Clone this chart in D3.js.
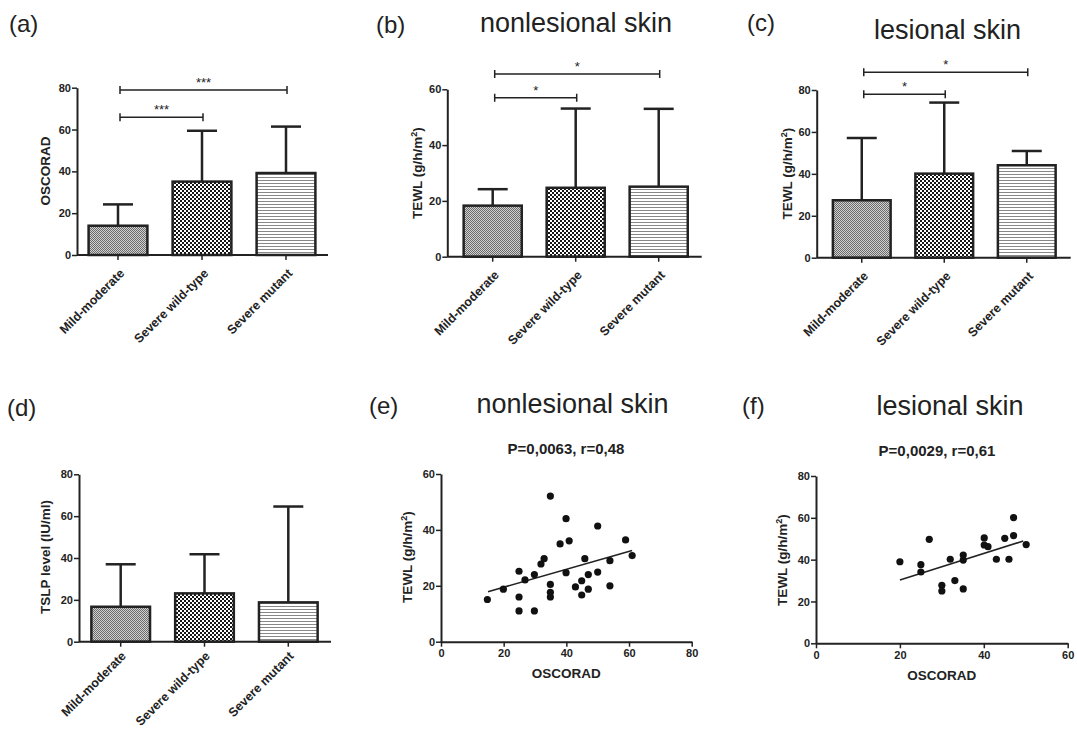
<!DOCTYPE html>
<html>
<head>
<meta charset="utf-8">
<script src="https://cdn.jsdelivr.net/npm/d3@7"></script>
<style>
body { margin: 0; background: #fff; }
svg text { font-family: "Liberation Sans", Arial, sans-serif; fill: #222; }
</style>
</head>
<body>
<svg id="fig" width="1077" height="731"></svg>
<script>
// values
var categories = ["Mild-moderate", "Severe wild-type", "Severe mutant"];

var oscoradMean = [14.0, 35.1, 39.2];
var oscoradSD   = [10.2, 24.3, 22.2];
var tewlNonMean = [18.3, 24.7, 25.1];
var tewlNonSD   = [5.9, 28.4, 27.9];
var tewlLesMean = [27.4, 40.1, 44.1];
var tewlLesSD   = [29.7, 33.9, 6.8];
var tslpMean    = [16.7, 23.1, 18.8];
var tslpSD      = [20.3, 18.7, 45.8];

// significance brackets: [from, to, height, label]
var sigA = [[0, 1, 65.9, "***"], [0, 2, 78.9, "***"]];
var sigB = [[0, 1, 57.0, "*"], [0, 2, 65.5, "*"]];
var sigC = [[0, 1, 78.0, "*"], [0, 2, 88.5, "*"]];

// scatter (e) nonlesional skin
var eX = [14.8, 19.9, 24.9, 24.9, 24.9, 26.8, 29.8, 29.8, 31.9, 32.9, 34.9, 34.9, 34.9, 34.9, 38.0,
          39.9, 39.9, 40.9, 42.9, 44.9, 44.9, 45.9, 47.0, 47.0, 50.0, 50.0, 53.9, 53.9, 58.9, 61.0];
var eY = [15.1, 18.8, 25.2, 16.0, 11.0, 22.1, 11.0, 24.0, 27.8, 29.7, 52.1, 20.5, 17.7, 16.0, 35.0,
          44.0, 24.7, 36.1, 19.6, 21.8, 16.7, 29.7, 24.0, 18.8, 41.4, 24.9, 29.0, 20.0, 36.4, 30.8];
var eFitX = [15, 61];
var eFitY = [17.9, 32.6];

// scatter (f) lesional skin
var fX = [20.0, 25.0, 25.0, 27.0, 30.0, 30.0, 32.0, 33.1, 35.1, 35.1, 35.1, 40.1, 40.1, 41.0, 43.0,
          45.0, 46.0, 47.1, 47.1, 50.1];
var fY = [39.0, 37.6, 34.1, 49.7, 27.7, 25.0, 40.2, 30.0, 42.2, 39.8, 26.0, 50.4, 47.0, 46.2, 40.2,
          50.2, 40.2, 60.1, 51.5, 47.2];
var fFitX = [20, 49.4];
var fFitY = [30.3, 48.9];

var ink = "#222";
var svg = d3.select("#fig");

// fill patterns
var defs = svg.append("defs");
var p1 = defs.append("pattern").attr("id", "fine").attr("patternUnits", "userSpaceOnUse")
  .attr("width", 2).attr("height", 2);
p1.append("rect").attr("width", 2).attr("height", 2).attr("fill", "#d2d2d2");
p1.append("rect").attr("width", 1).attr("height", 1).attr("fill", "#6a6a6a");
p1.append("rect").attr("x", 1).attr("y", 1).attr("width", 1).attr("height", 1).attr("fill", "#6a6a6a");

var p2 = defs.append("pattern").attr("id", "check").attr("patternUnits", "userSpaceOnUse")
  .attr("width", 4).attr("height", 4);
p2.append("rect").attr("width", 4).attr("height", 4).attr("fill", "#fff");
p2.append("rect").attr("width", 2).attr("height", 2).attr("fill", "#151515");
p2.append("rect").attr("x", 2).attr("y", 2).attr("width", 2).attr("height", 2).attr("fill", "#151515");

var p3 = defs.append("pattern").attr("id", "hline").attr("patternUnits", "userSpaceOnUse")
  .attr("width", 4).attr("height", 3);
p3.append("rect").attr("width", 4).attr("height", 3).attr("fill", "#fff");
p3.append("rect").attr("width", 4).attr("height", 1).attr("fill", "#888");

var fills = ["url(#fine)", "url(#check)", "url(#hline)"];

function styleAxis(g) {
  g.select(".domain").attr("stroke", ink).attr("stroke-width", 2);
  g.selectAll(".tick line").attr("stroke", ink).attr("stroke-width", 1.5);
  g.selectAll(".tick text").attr("font-size", 11).attr("font-weight", "bold").attr("fill", "#333");
}

function yTitle(x, y, parts) {
  var t = svg.append("text").attr("transform", "translate(" + x + "," + y + ") rotate(-90)")
    .attr("text-anchor", "middle").attr("font-size", 13.5).attr("font-weight", "bold");
  parts(t);
}

function tewlLabel(t) {
  t.append("tspan").text("TEWL (g/h/m");
  t.append("tspan").attr("dy", -5).attr("font-size", 9).text("2");
  t.append("tspan").attr("dy", 5).text(")");
}

function label(x, y, s, size) {
  svg.append("text").attr("x", x).attr("y", y).attr("font-size", size).text(s);
}

function barPanel(o) {
  var x = d3.scaleBand().domain(categories).range(o.band).paddingInner(0.3).paddingOuter(0.15);
  var y = d3.scaleLinear().domain([0, o.ymax]).range(o.yr);
  var g = svg.append("g");

  // error bars (upper SD only)
  var eg = g.selectAll(".err").data(categories).enter().append("g");
  eg.append("line")
    .attr("x1", function(d) { return x(d) + x.bandwidth() / 2; })
    .attr("x2", function(d) { return x(d) + x.bandwidth() / 2; })
    .attr("y1", function(d, i) { return y(o.mean[i]); })
    .attr("y2", function(d, i) { return y(o.mean[i] + o.sd[i]); })
    .attr("stroke", ink).attr("stroke-width", 2.5);
  eg.append("line")
    .attr("x1", function(d) { return x(d) + x.bandwidth() / 2 - 15; })
    .attr("x2", function(d) { return x(d) + x.bandwidth() / 2 + 15; })
    .attr("y1", function(d, i) { return y(o.mean[i] + o.sd[i]); })
    .attr("y2", function(d, i) { return y(o.mean[i] + o.sd[i]); })
    .attr("stroke", ink).attr("stroke-width", 2.5);

  g.selectAll(".bar").data(categories).enter().append("rect")
    .attr("x", function(d) { return x(d); })
    .attr("width", x.bandwidth())
    .attr("y", function(d, i) { return y(o.mean[i]); })
    .attr("height", function(d, i) { return y(0) - y(o.mean[i]); })
    .attr("fill", function(d, i) { return fills[i]; })
    .attr("stroke", ink).attr("stroke-width", 2.5);

  // y axis
  var ya = g.append("g").attr("transform", "translate(" + o.x0 + ",0)")
    .call(d3.axisLeft(y).tickValues(d3.range(0, o.ymax + 1, 20)).tickSize(5).tickSizeOuter(0).tickPadding(1));
  styleAxis(ya);

  // x axis
  g.append("line").attr("x1", o.x0).attr("x2", o.xEnd).attr("y1", y(0)).attr("y2", y(0))
    .attr("stroke", ink).attr("stroke-width", 2);
  var xa = g.append("g").attr("transform", "translate(0," + y(0) + ")")
    .call(d3.axisBottom(x).tickSize(5).tickSizeOuter(0));
  xa.select(".domain").remove();
  styleAxis(xa);
  xa.selectAll(".tick text")
    .attr("x", 0).attr("y", 0).attr("dy", "0.35em")
    .attr("text-anchor", "end").attr("font-size", 12.5)
    .attr("transform", "translate(" + o.lab[0] + "," + o.lab[1] + ") rotate(-45)");

  // significance brackets
  (o.sig || []).forEach(function(s) {
    var xa1 = x(categories[s[0]]) + x.bandwidth() / 2 + 2;
    var xa2 = x(categories[s[1]]) + x.bandwidth() / 2 + 1;
    var yy = y(s[2]);
    g.append("path").attr("d", "M" + xa1 + "," + (yy - 4) + "V" + (yy + 4) + "M" + xa1 + "," + yy +
        "H" + xa2 + "M" + xa2 + "," + (yy - 4) + "V" + (yy + 4))
      .attr("fill", "none").attr("stroke", ink).attr("stroke-width", 1.5);
    g.append("text").attr("x", (xa1 + xa2) / 2).attr("y", yy - 3).attr("text-anchor", "middle")
      .attr("font-size", 13).text(s[3]);
  });
}

function scatterPanel(o) {
  var x = d3.scaleLinear().domain([0, o.xmax]).range(o.xr);
  var y = d3.scaleLinear().domain([0, o.ymax]).range(o.yr);
  var g = svg.append("g");

  var xa = g.append("g").attr("transform", "translate(0," + y(0) + ")")
    .call(d3.axisBottom(x).tickValues(d3.range(0, o.xmax + 1, 20)).tickSize(5).tickSizeOuter(0).tickPadding(3));
  styleAxis(xa);
  var ya = g.append("g").attr("transform", "translate(" + x(0) + ",0)")
    .call(d3.axisLeft(y).tickValues(d3.range(0, o.ymax + 1, 20)).tickSize(5).tickSizeOuter(0).tickPadding(1));
  styleAxis(ya);

  g.append("line")
    .attr("x1", x(o.fx[0])).attr("y1", y(o.fy[0]))
    .attr("x2", x(o.fx[1])).attr("y2", y(o.fy[1]))
    .attr("stroke", ink).attr("stroke-width", 1.6);

  g.selectAll(".pt").data(o.xs).enter().append("circle")
    .attr("cx", function(d) { return x(d); })
    .attr("cy", function(d, i) { return y(o.ys[i]); })
    .attr("r", 3.6).attr("fill", "#111");

  g.append("text").attr("x", (o.xr[0] + o.xr[1]) / 2).attr("y", o.yr[0] + 36.5)
    .attr("text-anchor", "middle").attr("font-size", 13.5).attr("font-weight", "bold").text("OSCORAD");
  g.append("text").attr("x", o.subX).attr("y", o.subY).attr("text-anchor", "middle")
    .attr("font-size", 15).attr("font-weight", "bold").text(o.sub);
}

// (a)
barPanel({ mean: oscoradMean, sd: oscoradSD, ymax: 80, yr: [255, 87.7], band: [76, 328], x0: 77, xEnd: 328, sig: sigA, lab: [4, 16] });
yTitle(50, 171, function(t) { t.text("OSCORAD"); });
label(9, 32, "(a)", 24);

// (b)
barPanel({ mean: tewlNonMean, sd: tewlNonSD, ymax: 60, yr: [256.7, 89.3], band: [451.2, 700.2], x0: 447.3, xEnd: 701.7, sig: sigB, lab: [4, 16] });
yTitle(422, 173, tewlLabel);
label(376, 33, "(b)", 24);
svg.append("text").attr("x", 576).attr("y", 32).attr("text-anchor", "middle").attr("font-size", 27).text("nonlesional skin");

// (c)
barPanel({ mean: tewlLesMean, sd: tewlLesSD, ymax: 80, yr: [257.7, 90], band: [820.5, 1068], x0: 816.7, xEnd: 1070.7, sig: sigC, lab: [4, 16] });
yTitle(792, 173.5, tewlLabel);
label(747, 31, "(c)", 24);
svg.append("text").attr("x", 947.5).attr("y", 39).attr("text-anchor", "middle").attr("font-size", 27).text("lesional skin");

// (d)
barPanel({ mean: tslpMean, sd: tslpSD, ymax: 80, yr: [641.7, 474.3], band: [78.8, 330.2], x0: 79, xEnd: 331, lab: [3, 12] });
yTitle(50, 557, function(t) { t.text("TSLP level (IU/ml)"); });
label(7, 416, "(d)", 24);

// (e)
scatterPanel({ xs: eX, ys: eY, fx: eFitX, fy: eFitY, xmax: 80, ymax: 60, xr: [441, 691.7], yr: [641.7, 474],
  sub: "P=0,0063, r=0,48", subX: 566, subY: 454 });
yTitle(412, 557, tewlLabel);
label(369, 414, "(e)", 24);
svg.append("text").attr("x", 572.5).attr("y", 413).attr("text-anchor", "middle").attr("font-size", 27).text("nonlesional skin");

// (f)
scatterPanel({ xs: fX, ys: fY, fx: fFitX, fy: fFitY, xmax: 60, ymax: 80, xr: [816, 1067.7], yr: [643.3, 476],
  sub: "P=0,0029, r=0,61", subX: 937, subY: 456 });
yTitle(787, 560, tewlLabel);
label(742, 414, "(f)", 24);
svg.append("text").attr("x", 950).attr("y", 415).attr("text-anchor", "middle").attr("font-size", 27).text("lesional skin");
</script>
</body>
</html>
